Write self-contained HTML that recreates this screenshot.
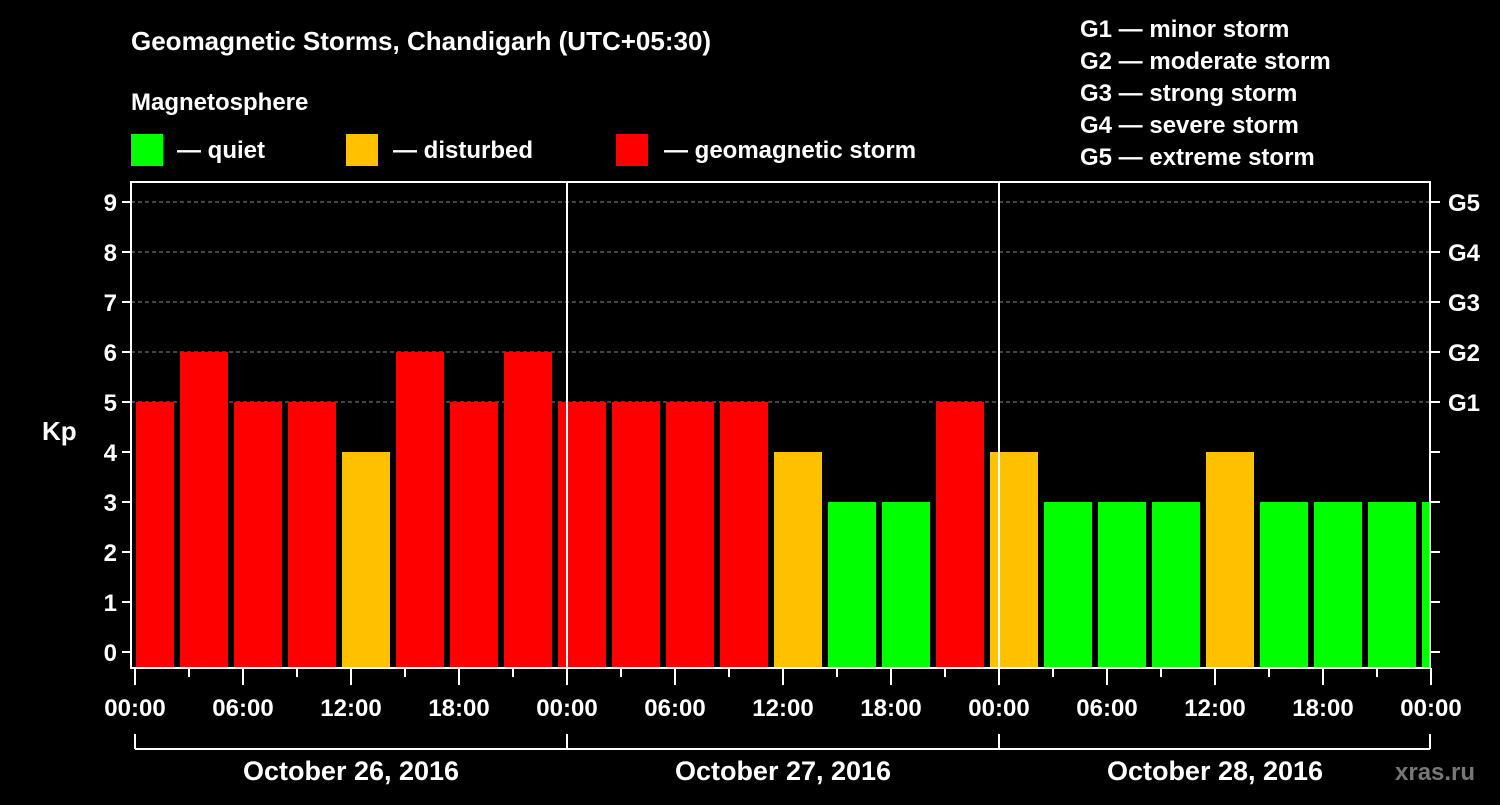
<!DOCTYPE html>
<html><head><meta charset="utf-8"><style>
body{margin:0;background:#000;width:1500px;height:800px;overflow:hidden}
svg text{font-family:"Liberation Sans",Arial,sans-serif;font-weight:bold;fill:#fff}
</style></head><body>
<svg id="chart" width="1500" height="800" xmlns="http://www.w3.org/2000/svg">
<text x="131" y="50" font-size="26">Geomagnetic Storms, Chandigarh (UTC+05:30)</text>
<text x="131" y="110" font-size="24">Magnetosphere</text>
<g>
<rect x="131" y="134" width="32" height="32" fill="#00ff00"/><text x="177" y="158" font-size="24">— quiet</text>
<rect x="346" y="134" width="32" height="32" fill="#ffc000"/><text x="393" y="158" font-size="24">— disturbed</text>
<rect x="616" y="134" width="32" height="32" fill="#ff0000"/><text x="664" y="158" font-size="24">— geomagnetic storm</text>
</g>
<g font-size="24">
<text x="1080" y="37">G1 — minor storm</text>
<text x="1080" y="69">G2 — moderate storm</text>
<text x="1080" y="101">G3 — strong storm</text>
<text x="1080" y="133">G4 — severe storm</text>
<text x="1080" y="165">G5 — extreme storm</text>
</g>
<g id="grid"></g><g id="bars"></g><g id="axes"></g>
<text x="42" y="440" font-size="26">Kp</text>
<text x="1395" y="780" font-size="24" style="fill:#777">xras.ru</text>
</svg>
<script>
const kpValues=[5,6,5,5,4,6,5,6,5,5,5,5,4,3,3,5,4,3,3,3,4,3,3,3,3];
const yTicks=[0,1,2,3,4,5,6,7,8,9];
const gLabels=["G1","G2","G3","G4","G5"];
const timeLabels=["00:00","06:00","12:00","18:00","00:00","06:00","12:00","18:00","00:00","06:00","12:00","18:00","00:00"];
const dateLabels=["October 26, 2016","October 27, 2016","October 28, 2016"];
const NS="http://www.w3.org/2000/svg";
const L=131,R=1430,T=182,B=668,x0=135,day=432;
const y=v=>652-v*50;
const xh=h=>x0+h*day/24;
function mk(tag,at,par){const e=document.createElementNS(NS,tag);for(const k in at)e.setAttribute(k,at[k]);document.getElementById(par).appendChild(e);return e;}
yTicks.forEach(v=>{
 if(v>=5){const g=mk('line',{x1:L,x2:R,y1:y(v),y2:y(v),stroke:'#888','stroke-dasharray':'4,3'},'grid');
 
 }
 mk('line',{x1:L-9,x2:L,y1:y(v),y2:y(v),stroke:'#fff','stroke-width':2},'axes');
 mk('line',{x1:R,x2:R+10,y1:y(v),y2:y(v),stroke:'#fff','stroke-width':2},'axes');
 const t=mk('text',{x:L-14,y:y(v)+9,'text-anchor':'end','font-size':24},'axes');t.textContent=v;
 
 
 if(v>=5){const g=mk('text',{x:R+18,y:y(v)+9,'font-size':24},'axes');g.textContent=gLabels[v-5];
 
 }
});
kpValues.forEach((v,i)=>{
 let xs=xh(i*3-0.5)+0,xe=xs+48; // 3h slot starting at 23:30 local offset
 xs=Math.max(xs,L+5);xe=Math.min(xe,R-1);
 const c=v>=5?'#ff0000':(v>=4?'#ffc000':'#00ff00');
 const r=mk('rect',{x:xs,y:y(v),width:xe-xs,height:B-1-y(v),fill:c},'bars');
 
 
});
mk('line',{x1:xh(24),x2:xh(24),y1:T,y2:B,stroke:'#fff','stroke-width':2},'axes');
mk('line',{x1:xh(48),x2:xh(48),y1:T,y2:B,stroke:'#fff','stroke-width':2},'axes');
const fr=mk('rect',{x:L,y:T,width:R-L,height:B-T,fill:'none',stroke:'#fff','stroke-width':2},'axes');


for(let h=0;h<=72;h+=3){mk('line',{x1:xh(h),x2:xh(h),y1:B,y2:h%6?677:685,stroke:'#fff','stroke-width':2},'axes');}
timeLabels.forEach((s,i)=>{const t=mk('text',{x:xh(i*6),y:716,'text-anchor':'middle','font-size':24},'axes');t.textContent=s;
 
 });
mk('line',{x1:x0,x2:R,y1:749,y2:749,stroke:'#fff','stroke-width':2},'axes');
for(let d=0;d<=3;d++)mk('line',{x1:Math.min(xh(d*24),R),x2:Math.min(xh(d*24),R),y1:734,y2:749,stroke:'#fff','stroke-width':2},'axes');
dateLabels.forEach((s,i)=>{const t=mk('text',{x:xh(i*24+12),y:780,'text-anchor':'middle','font-size':27},'axes');t.textContent=s;
 
 });
</script>
</body></html>
